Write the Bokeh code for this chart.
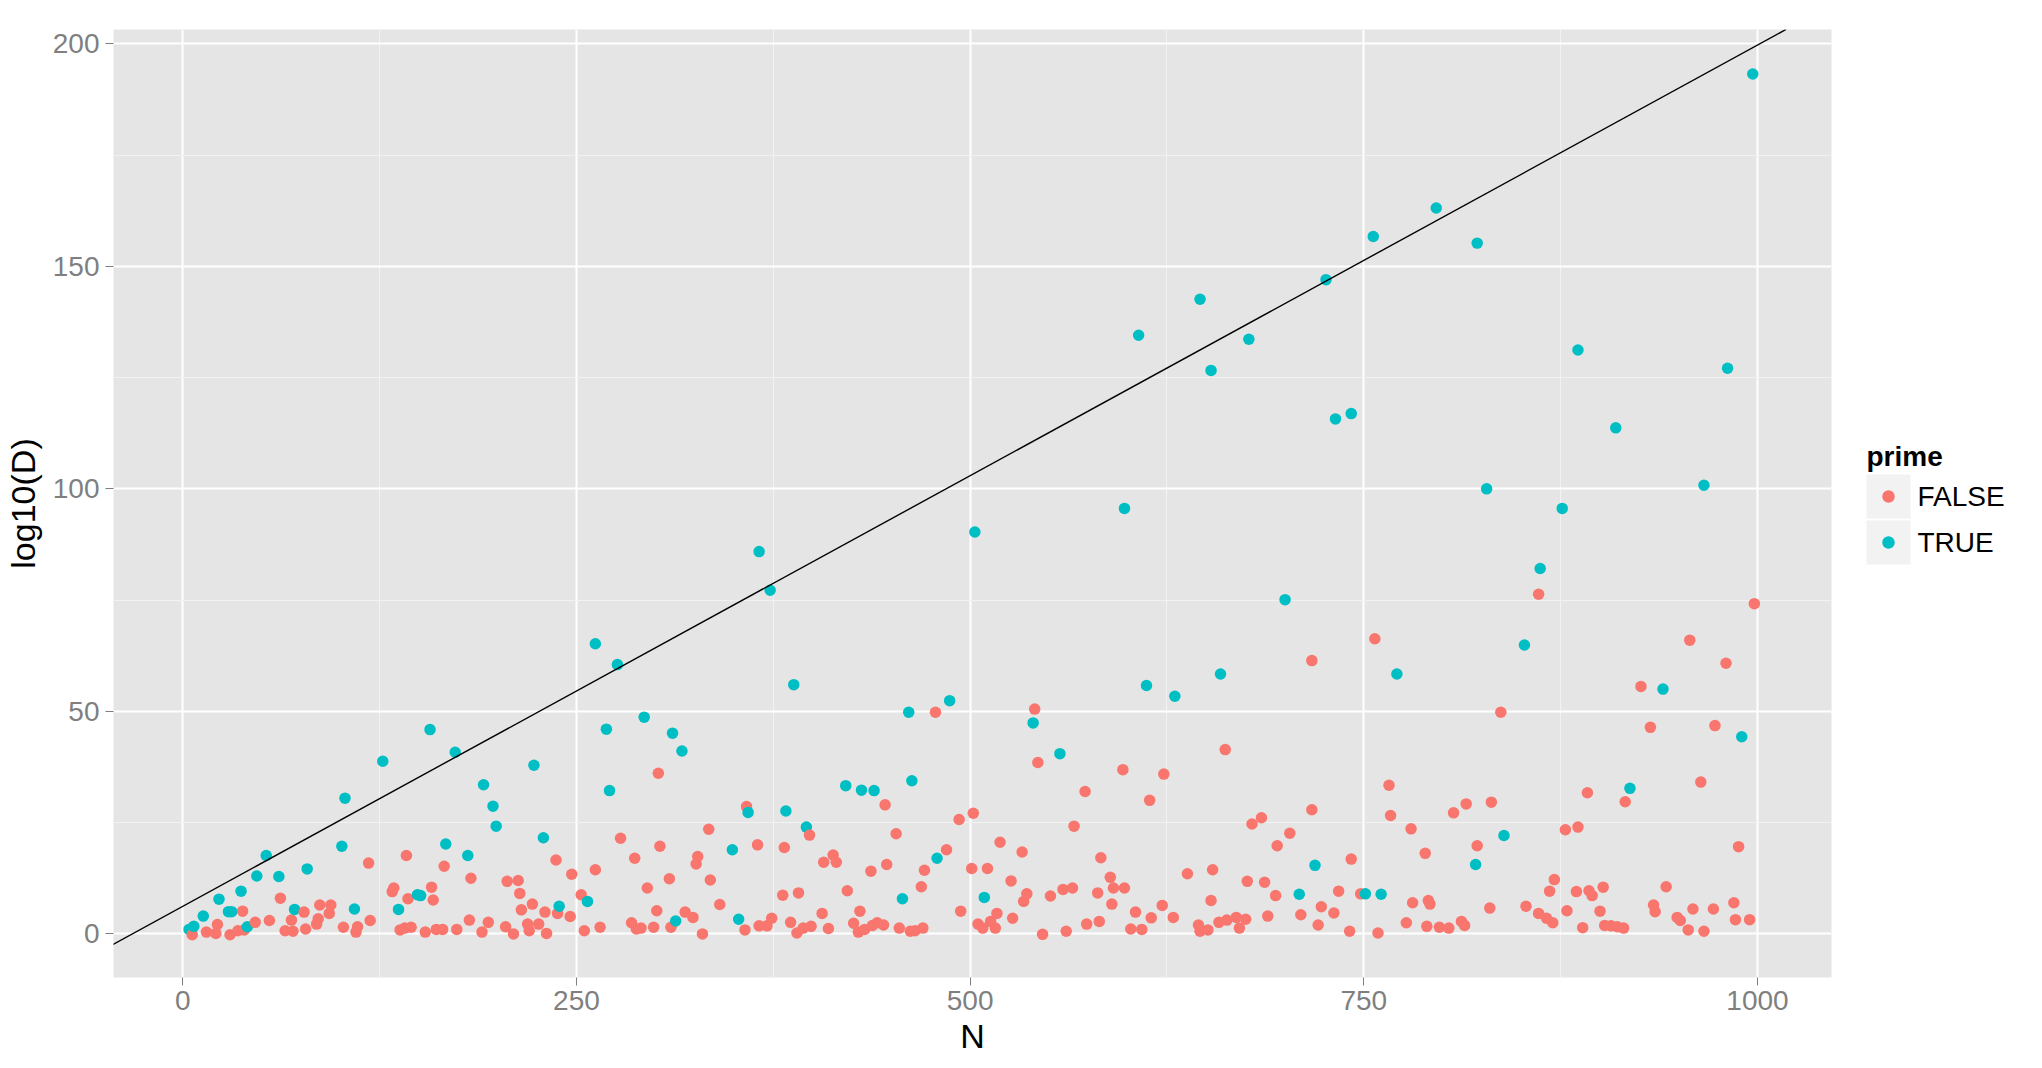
from bokeh.plotting import figure
from bokeh.models import Range1d, FixedTicker, Slope, ColumnDataSource
from bokeh.layouts import row
from bokeh.embed import file_html
from bokeh.resources import INLINE
from bokeh.core.properties import value

# ---------------- data ----------------
false_N = [6, 15, 21, 22, 30, 35, 38, 39, 46, 55, 62, 65, 69, 70, 77, 78, 85, 86, 87, 93, 94, 102, 110, 111, 118, 119,
           133, 134, 138, 141, 142, 143, 145, 154, 158, 159, 161, 165, 166, 174, 182, 183, 190, 194, 205, 206, 210, 213,
           214, 215, 219, 220, 222, 226, 230, 231, 237, 238, 246, 247, 253, 255, 262, 265,
           278, 285, 287, 288, 291, 295, 299, 301, 302, 303, 309, 310, 319, 324, 326, 327, 330, 334, 335, 341, 357, 358,
           365, 366, 371, 374, 381, 382, 386, 390, 391, 394, 398, 399,
           406, 407, 410, 413, 415, 422, 426, 429, 430, 433, 437, 438, 441, 445, 446, 447, 453, 455, 462, 465, 469, 470,
           471, 478, 485, 493, 494, 501, 502, 505, 508, 511, 513, 516, 517, 519, 526, 527, 533, 534, 536,
           541, 543, 546, 551, 559, 561, 565, 566, 573, 574, 581, 582, 583, 589, 590, 591, 597, 598, 602, 605, 609, 614,
           615, 622, 623, 629, 638, 645, 646, 651, 653, 654, 658, 662, 663, 669, 671, 676,
           675, 679, 685, 687, 689, 694, 695, 703, 710, 717, 721, 723, 731, 734, 741, 742, 748, 759, 766, 767, 777, 780,
           781, 789, 790, 791, 792, 798, 804, 807, 812, 814, 815,
           822, 830, 831, 837, 853, 861, 866, 868, 870, 871, 878, 879, 885, 886, 889, 892, 893, 895, 900, 902, 903, 907,
           911, 915, 916, 926, 932, 934, 935, 942, 949,
           951, 956, 959, 964, 966, 972, 973, 985, 986, 988, 995,
           717, 757, 861, 957, 980, 998]
false_v = [-0.2, 0.4, 0.1, 2.1, -0.2, 0.7, 5.1, 0.9, 2.6, 3.0, 8.0, 0.7, 3.1, 0.6, 4.9, 1.1, 2.2, 3.4, 6.5, 4.6, 6.5, 1.5, 0.4, 1.6, 15.9, 3.0,
           9.5, 10.3, 0.9, 1.3, 17.6, 7.9, 1.5, 0.4, 10.5, 7.6, 1.0, 1.0, 15.2, 1.0, 3.1, 12.5, 0.4, 2.6, 1.6, 11.8, 0.0, 12.0,
           9.1, 5.4, 2.2, 0.7, 6.7, 2.2, 4.9, 0.1, 16.6, 4.6, 3.9, 13.4, 8.8, 0.7, 14.4, 1.5,
           21.5, 2.5, 17.0, 1.1, 1.3, 10.3, 1.5, 5.2, 36.1, 19.7, 12.4, 1.5, 4.9, 3.7, 15.7, 17.4, 0.0, 23.5, 12.1, 6.6, 0.9, 28.6,
           20.0, 1.8, 1.8, 3.5, 8.7, 19.4, 2.6, 0.2, 9.2, 1.3, 22.2, 1.7,
           4.6, 16.1, 1.2, 17.7, 16.1, 9.7, 2.4, 0.4, 5.1, 1.0, 14.1, 1.9, 2.5, 2.0, 29.0, 15.6, 22.5, 1.3, 0.6, 0.7, 10.6, 1.3,
           14.3, 49.8, 18.9, 25.7, 5.1, 14.7, 27.1, 2.2, 1.3, 14.7, 2.8, 1.3, 4.6, 20.6, 11.9, 3.5, 18.4, 7.3, 9.0,
           50.5, 38.5, -0.1, 8.5, 10.0, 0.6, 10.3, 24.2, 32.0, 2.2, 9.2, 2.8, 17.1, 12.7, 6.7, 10.3, 36.9, 10.3, 1.1, 4.9, 1.0, 30.0,
           3.6, 6.4, 35.9, 3.7, 13.5, 2.0, 0.6, 0.9, 7.5, 14.4, 2.6, 41.4, 3.1, 3.7, 1.3, 11.8,
           3.3, 24.7, 26.1, 11.6, 4.0, 8.6, 19.8, 22.6, 4.3, 27.9, 2.0, 6.1, 4.7, 9.6, 0.6, 16.8, 9.0, 0.2, 33.4, 26.6, 2.5, 23.6,
           7.0, 18.1, 1.7, 7.5, 6.7, 1.5, 1.3, 27.2, 2.8, 1.9, 29.2,
           19.8, 5.8, 29.6, 49.8, 6.2, 4.6, 3.5, 9.6, 2.5, 12.2, 23.4, 5.2, 9.5, 24.0, 1.4, 31.7, 9.7, 8.6, 5.1, 10.5, 1.9, 1.8,
           1.6, 1.3, 29.7, 55.6, 46.4, 6.5, 5.0, 10.6, 3.7,
           3.0, 0.9, 5.6, 34.1, 0.6, 5.6, 46.8, 7.0, 3.2, 19.6, 3.2,
           61.4, 66.3, 76.3, 66.0, 60.8, 74.2]

true_N = [4, 7, 13, 23, 29, 31, 37, 41, 47, 53, 61, 71, 79, 101, 103, 109, 127,
          137, 149, 151, 157, 167, 173, 181, 191, 197, 199, 223, 229, 239, 257,
          262, 269, 271, 276, 293, 311, 313, 317, 349, 353, 359, 366, 373, 383, 388, 396,
          421, 431, 439, 457, 461, 463, 479, 487, 503, 509, 540,
          557, 598, 607, 612, 630, 646, 653, 659, 677, 700,
          709, 719, 726, 732, 742, 751, 756, 761, 771, 796,
          821, 822, 828, 839, 852, 862, 876, 886, 910, 919, 940, 966, 981, 990, 997]
true_v = [1.0, 1.7, 4.0, 7.8, 5.0, 5.0, 9.6, 1.6, 13.0, 17.6, 12.9, 5.5, 14.6, 19.7, 30.5, 5.6, 38.8,
          5.5, 8.8, 8.6, 45.9, 20.2, 40.8, 17.6, 33.5, 28.7, 24.2, 37.9, 21.6, 6.2, 7.3,
          65.2, 46.0, 32.2, 60.5, 48.7, 45.1, 2.9, 41.1, 18.9, 3.3, 27.3, 85.9, 77.2, 27.6, 56.0, 24.0,
          33.3, 32.3, 32.2, 7.9, 49.8, 34.4, 17.0, 52.4, 90.3, 8.2, 47.4,
          40.5, 95.6, 134.5, 55.8, 53.4, 142.6, 126.6, 58.4, 133.6, 75.1,
          8.9, 15.4, 147.0, 115.7, 116.9, 9.0, 156.7, 8.9, 58.4, 163.1,
          15.6, 155.2, 100.0, 22.1, 64.9, 82.1, 95.6, 131.2, 113.7, 32.7, 55.0, 100.8, 127.1, 44.3, 193.2]

prime_levels = ["FALSE", "TRUE"]
prime_colors = ["#F8766D", "#00BFC4"]

line_intercept = 6.2
line_slope = 0.1935

x_ticks = [0, 250, 500, 750, 1000]
x_minor = [125, 375, 625, 875]
y_ticks = [0, 50, 100, 150, 200]
y_minor = [25, 75, 125, 175]

# ---------------- build source (drawn in N order, like ggplot) ----------------
rows = [(n, v, prime_colors[0]) for n, v in zip(false_N, false_v)] + \
       [(n, v, prime_colors[1]) for n, v in zip(true_N, true_v)]
rows.sort(key=lambda r: r[0])
src = ColumnDataSource(dict(N=[r[0] for r in rows], v=[r[1] for r in rows], c=[r[2] for r in rows]))

FONT = "Liberation Sans"
W_MAIN = 1840
H = 1068
TOP, BOTTOM = 29, 91

p = figure(width=W_MAIN, height=H, output_backend="svg", toolbar_location=None,
           x_range=Range1d(-44, 1047), y_range=Range1d(-9.8, 203.2),
           min_border_left=111, min_border_right=9, min_border_top=TOP, min_border_bottom=BOTTOM)
p.background_fill_color = "#E5E5E5"
p.border_fill_color = "white"
p.outline_line_color = None

p.xaxis.ticker = FixedTicker(ticks=x_ticks, minor_ticks=x_minor)
p.yaxis.ticker = FixedTicker(ticks=y_ticks, minor_ticks=y_minor)
p.xgrid.ticker = FixedTicker(ticks=x_ticks, minor_ticks=x_minor)
p.ygrid.ticker = FixedTicker(ticks=y_ticks, minor_ticks=y_minor)
for g in (p.xgrid, p.ygrid):
    g.grid_line_color = "white"
    g.grid_line_width = 2
    g.minor_grid_line_color = "#F2F2F2"
    g.minor_grid_line_width = 1

for ax in (p.xaxis, p.yaxis):
    ax.axis_line_color = None
    ax.major_tick_line_color = "#7F7F7F"
    ax.major_tick_line_width = 1
    ax.major_tick_out = 8
    ax.major_tick_in = 0
    ax.minor_tick_line_color = None
    ax.major_label_text_font = FONT
    ax.major_label_text_font_size = "28px"
    ax.major_label_text_color = "#7F7F7F"
    ax.axis_label_text_font = FONT
    ax.axis_label_text_font_size = "34px"
    ax.axis_label_text_font_style = "normal"
    ax.axis_label_text_color = "black"

p.xaxis.axis_label = "N"
p.yaxis.axis_label = "log10(D)"
p.xaxis.major_label_standoff = 5
p.yaxis.major_label_standoff = 6
p.xaxis.axis_label_standoff = 4
p.yaxis.axis_label_standoff = 8

p.scatter("N", "v", source=src, size=11.5, fill_color="c", line_color=None)
p.add_layout(Slope(gradient=line_slope, y_intercept=line_intercept, line_color="black", line_width=1.4))

# ---------------- legend as a small companion figure ----------------
# (the row aligns its frame with the main panel, so its y units are page pixels)
LW = 2042 - W_MAIN
leg = figure(width=LW, height=H, output_backend="svg", toolbar_location=None, title=None,
             x_range=Range1d(0, LW), y_range=Range1d(H - BOTTOM, TOP),
             min_border=0, x_axis_location=None, y_axis_location=None)
leg.outline_line_color = None
leg.grid.visible = False
leg.background_fill_color = "white"
leg.border_fill_color = "white"

key_x = 48
key_y = [496, 542]
lsrc = ColumnDataSource(dict(x=[key_x] * 2, y=key_y, c=prime_colors, lab=prime_levels, tx=[77] * 2))
leg.rect("x", "y", width=44, height=44, source=lsrc, fill_color="#F2F2F2", line_color=None)
leg.scatter("x", "y", source=lsrc, size=12.5, fill_color="c", line_color=None)
leg.text("tx", "y", text="lab", source=lsrc, text_font=value(FONT), text_font_size="28px",
         text_baseline="middle", text_align="left", text_color="black")
leg.text([26], [456], text=["prime"], text_font=value(FONT), text_font_size="28px",
         text_font_style="bold", text_baseline="middle", text_align="left", text_color="black")

layout = row(p, leg, spacing=0)
open("out.html", "w").write(file_html(layout, INLINE))
